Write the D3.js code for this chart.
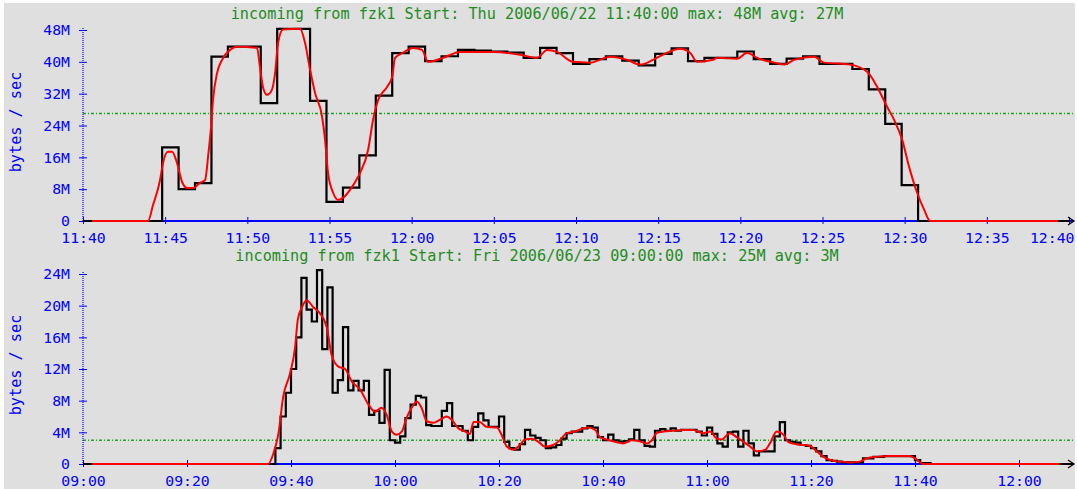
<!DOCTYPE html>
<html lang="en">
<head>
    <meta charset="UTF-8">
    <title>incoming from fzk1</title>
    <script src="https://d3js.org/d3.v7.min.js"></script>
    <style>
        body { margin: 0; background: #fff; }
        text { font-family: "DejaVu Sans Mono", monospace; }
    </style>
</head>
<body>
<svg id="chart" width="1077" height="489"></svg>

<script>
    // ---- data (values in M bytes/sec) ----
    const topTitle = 'incoming from fzk1 Start: Thu 2006/06/22 11:40:00 max: 48M avg: 27M';
    const botTitle = 'incoming from fzk1 Start: Fri 2006/06/23 09:00:00 max: 25M avg: 3M';
    const yLabel = 'bytes / sec';

    const topTicksY = [0, 8, 16, 24, 32, 40, 48];
    const botTicksY = [0, 4, 8, 12, 16, 20, 24];
    const topTicksX = ['11:40', '11:45', '11:50', '11:55', '12:00', '12:05', '12:10',
        '12:15', '12:20', '12:25', '12:30', '12:35', '12:40'];
    const botTicksX = ['09:00', '09:20', '09:40', '10:00', '10:20', '10:40', '11:00',
        '11:20', '11:40', '12:00'];
    const topAvg = 27;
    const botAvg = 3;

    // raw samples (black), one per minute starting at topRawStart
    const topRawStart = '11:39:49';
    const topRaw = [0, 0, 0, 0, 0, 18.5, 8.0, 9.5, 41.3, 43.8, 43.8, 29.6, 48.3, 48.3, 30.2, 4.8,
        8.4, 16.5, 31.5, 42.2, 43.8, 40.2, 41.4, 43.0, 42.8, 42.6, 42.3, 41.0, 43.5, 42.2, 39.5,
        40.7, 41.4, 40.3, 39.1, 42.0, 43.4, 40.2, 41.0, 41.0, 42.6, 40.7, 39.5, 40.8, 41.4, 39.5,
        39.5, 38.2, 33.1, 24.4, 9.0, 0, 0, 0, 0, 0, 0, 0, 0, 0, 0, 0];

    // smoothed trend (red): [minutes after 11:40, value]
    const topTrend = [[0.55, 0], [3.96, 0], [4.26, 4.0], [4.69, 10.3], [4.87, 14.6], [5.17, 17.4],
        [5.42, 17.4], [5.72, 14.6], [6.03, 9.8], [6.33, 8.3], [6.70, 8.3], [7.12, 9.6], [7.43, 10.3],
        [7.61, 16.1], [7.79, 23.6], [7.91, 30.4], [8.16, 37.2], [8.46, 40.5], [8.95, 43.0],
        [9.37, 43.8], [10.59, 43.5], [10.77, 38.7], [10.96, 33.5], [11.20, 31.7], [11.50, 33.0],
        [11.69, 37.2], [11.87, 44.8], [12.17, 48.1], [13.21, 48.3], [13.51, 44.8], [13.82, 38.0],
        [14.12, 32.2], [14.55, 26.2], [14.73, 20.4], [14.91, 12.1], [15.22, 7.1], [15.52, 5.3],
        [15.82, 5.8], [16.25, 7.8], [16.74, 11.1], [16.86, 12.1], [17.35, 17.9], [17.65, 25.4],
        [17.96, 30.4], [18.50, 33.7], [18.81, 36.2], [18.99, 41.0], [19.48, 42.3], [20.08, 43.5],
        [20.63, 43.0], [21.00, 40.0], [21.91, 41.0], [22.95, 42.5], [24.95, 42.5], [26.60, 41.8],
        [27.63, 41.0], [28.24, 43.0], [28.85, 42.5], [29.82, 40.0], [30.86, 39.8], [32.08, 41.3],
        [33.11, 40.5], [33.90, 39.3], [34.69, 40.5], [35.30, 41.8], [36.34, 43.3], [36.94, 42.3],
        [37.37, 40.0], [38.34, 40.5], [38.59, 41.0], [39.81, 40.8], [40.41, 42.3], [41.02, 41.0],
        [42.06, 39.8], [42.67, 39.3], [43.27, 40.5], [44.49, 41.3], [45.10, 39.8], [46.68, 39.3],
        [47.72, 37.5], [48.33, 33.7], [48.93, 28.7], [49.36, 25.4], [49.85, 20.4], [50.27, 13.6],
        [50.76, 7.1], [51.19, 2.8], [51.55, 0], [59.34, 0]];

    // raw samples (black): [minutes after 09:00, value], held until next sample
    const botRaw = [[-1, 0], [37, 2], [38, 6], [39, 9], [40, 12], [41, 16], [42, 23.5], [43, 19.5],
        [44, 18], [45, 24.5], [46, 14.5], [47, 22.3], [48, 9], [49, 10.6], [50, 17.3], [51, 9.3],
        [52, 10.5], [53, 9.3], [54, 10.5], [55, 6.2], [56, 6.7], [57, 5.2], [58, 11.9], [59, 3],
        [60, 2.7], [61, 3.5], [62, 5.8], [63, 7.5], [64, 8.6], [65, 8.4], [66, 4.9], [67, 4.8],
        [68, 4.8], [69, 6.7], [70, 7.7], [71, 4.8], [72, 4.8], [73, 4.2], [74, 3], [75, 4.7],
        [76, 6.4], [77, 5.5], [78, 4.7], [79, 4.7], [80, 6], [81, 2.8], [82, 2], [83, 1.8],
        [84, 2.5], [85, 4.3], [86, 3.6], [87, 3.3], [88, 3], [89, 2], [90, 2.1], [91, 2.4],
        [92, 3.2], [93, 3.9], [94, 4.1], [95, 4.1], [96, 4.5], [97, 4.8], [98, 4.6], [99, 3.4],
        [100, 3], [101, 3.7], [102, 3], [103, 2.8], [104, 2.9], [105, 3.1], [106, 4.3], [107, 3],
        [108, 2.3], [109, 2.2], [110, 4.2], [111, 4.4], [112, 4.2], [113, 4.5], [114, 4.2],
        [115, 4.3], [116, 4.3], [117, 4.3], [118, 4.1], [119, 3.6], [120, 4.6], [121, 3.8],
        [122, 2.6], [123, 2.2], [124, 4], [125, 4.1], [126, 2.2], [127, 4.2], [128, 2.6],
        [129, 1.1], [130, 1.6], [131, 1.6], [132, 1.6], [133, 3.5], [134, 5.3], [135, 3],
        [136, 2.8], [137, 2.7], [138, 2.4], [139, 2.3], [140, 2], [141, 1.6], [142, 1], [143, 0.5],
        [144, 0.4], [145, 0.3], [146, 0.2], [147, 0.2], [148, 0.2], [149, 0.2], [150, 0.7],
        [151, 0.7], [152, 0.9], [153, 0.9], [154, 1], [155, 1], [156, 1], [157, 1], [158, 1],
        [159, 1], [160, 0.5], [161, 0.1], [162, 0.1], [163, 0], [192, 0]];

    // smoothed trend (red): [minutes after 09:00, value]
    const botTrend = [[1.7, 0], [35.6, 0], [36.6, 1.3], [37.6, 3.9], [38.5, 8.5], [39.8, 11.4],
        [40.8, 14.8], [41.3, 18.2], [42.1, 19.8], [43.0, 20.7], [44.3, 19.8], [45.6, 19.0],
        [46.9, 17.2], [47.8, 13.8], [49.1, 12.3], [50.4, 12.0], [51.7, 10.4], [53.3, 9.4],
        [54.9, 7.5], [56.2, 6.6], [57.4, 7.1], [58.4, 6.2], [59.4, 4.1], [60.3, 3.7], [61.3, 4.1],
        [62.2, 5.8], [63.2, 7.1], [64.2, 7.9], [65.1, 7.1], [66.1, 5.4], [67.4, 5.2], [68.7, 5.6],
        [69.9, 6.0], [70.9, 5.6], [72.2, 4.5], [73.5, 4.1], [74.4, 3.8], [75.1, 5.3], [76.3, 5.3],
        [77.6, 4.7], [79.6, 4.6], [80.5, 3.7], [81.5, 2.2], [82.8, 1.8], [84.0, 2.4], [85.0, 3.1],
        [86.3, 3.2], [87.6, 2.8], [88.8, 2.2], [90.4, 2.4], [91.7, 3.0], [93.0, 3.9], [94.6, 4.1],
        [96.2, 4.5], [97.2, 4.6], [98.5, 4.3], [99.4, 3.4], [100.7, 3.1], [102.3, 2.8],
        [103.9, 2.6], [105.5, 3.0], [106.8, 2.9], [108.4, 2.6], [109.4, 3.0], [110.3, 3.9],
        [111.6, 4.1], [113.5, 4.2], [115.4, 4.3], [117.4, 4.3], [119.3, 3.9], [120.6, 4.1],
        [121.9, 3.2], [122.8, 3.1], [124.4, 3.9], [125.7, 3.4], [127.0, 2.8], [128.3, 2.2],
        [129.6, 1.6], [131.2, 1.8], [132.1, 2.6], [133.4, 4.1], [134.7, 3.7], [135.6, 2.8],
        [137.2, 2.5], [139.8, 2.3], [141.1, 1.6], [142.4, 0.9], [143.7, 0.5], [145.6, 0.3],
        [147.5, 0.2], [149.4, 0.3], [150.7, 0.7], [152.6, 0.9], [155.2, 1.0], [159.0, 1.0],
        [160.0, 0.7], [161.0, 0.2], [161.5, 0], [187.9, 0]];

    // ---- drawing ----
    const BG = '#dfdfdf';
    const BLUE = '#0000ff';
    const GREEN = '#1e8c1e';
    const AVG_GREEN = '#20a020';
    const RAW_COLOR = '#000000';
    const TREND_COLOR = '#ff0000';
    const parseT = d3.timeParse('%H:%M:%S');
    const parseHM = d3.timeParse('%H:%M');
    const addMin = (t, m) => new Date(t.getTime() + m * 60000);

    const svg = d3.select('#chart');
    svg.append('rect').attr('width', 1077).attr('height', 489).attr('fill', '#fff');
    svg.append('rect').attr('x', 4).attr('y', 3).attr('width', 1071).attr('height', 486).attr('fill', BG);

    const drawPanel = (opt) => {
        const g = svg.append('g');
        const x = d3.scaleTime().domain([parseHM(opt.ticksX[0]), parseHM(opt.ticksX[opt.ticksX.length - 1])])
            .range([83, opt.xEnd]);
        const y = d3.scaleLinear().domain([0, opt.ticksY[opt.ticksY.length - 1]])
            .range([opt.y0, opt.yTop]);

        const clipId = 'clip' + opt.id;
        svg.append('clipPath').attr('id', clipId)
            .append('rect').attr('x', 83).attr('y', opt.yTop - 10)
            .attr('width', opt.dataEnd - 83).attr('height', opt.y0 - opt.yTop + 12);

        // title
        g.append('text')
            .attr('x', 537).attr('y', opt.titleY)
            .attr('text-anchor', 'middle')
            .attr('fill', GREEN)
            .style('font-size', '15.2px')
            .text(opt.title);

        // y label
        g.append('text')
            .attr('transform', `translate(21, ${opt.yLabelY}) rotate(-90)`)
            .attr('text-anchor', 'middle')
            .attr('fill', BLUE)
            .style('font-size', '15.2px')
            .text(yLabel);

        // avg line
        g.append('line')
            .attr('x1', 83).attr('x2', 1075)
            .attr('y1', y(opt.avg)).attr('y2', y(opt.avg))
            .attr('stroke', AVG_GREEN).attr('stroke-width', 1.4)
            .attr('stroke-dasharray', '3,2,1,2');

        // y axis
        const yAxis = d3.axisLeft(y).tickValues(opt.ticksY).tickSize(3).tickPadding(10)
            .tickFormat(d => d === 0 ? '0' : d + 'M');
        const ya = g.append('g').attr('transform', 'translate(83,0)').call(yAxis);
        ya.select('.domain').remove();
        ya.selectAll('.tick line').attr('x1', -4).attr('x2', 4).attr('stroke', BLUE);
        ya.selectAll('.tick text').attr('fill', BLUE).style('font-size', '14.8px')
            .style('font-family', '"DejaVu Sans Mono", monospace');
        g.append('line')
            .attr('x1', 83).attr('x2', 83).attr('y1', opt.yTop - 2).attr('y2', opt.y0)
            .attr('stroke', BLUE).attr('stroke-width', 1.2).attr('stroke-dasharray', '1,1');

        // x axis
        const xAxis = d3.axisBottom(x).tickValues(opt.ticksX.map(parseHM)).tickSize(3).tickPadding(8)
            .tickFormat(d3.timeFormat('%H:%M'));
        const xa = g.append('g').attr('transform', `translate(0,${opt.y0})`).call(xAxis);
        xa.select('.domain').remove();
        xa.selectAll('.tick line').attr('y1', -4).attr('y2', 3).attr('stroke', BLUE);
        xa.selectAll('.tick text').attr('fill', BLUE).style('font-size', '14.8px')
            .style('font-family', '"DejaVu Sans Mono", monospace');
        // keep a label that would run past the right edge inside the frame
        xa.selectAll('.tick text').filter(d => x(d) > 1045)
            .attr('text-anchor', 'end').attr('x', 1074 - opt.xEnd);
        g.append('line')
            .attr('x1', 83).attr('x2', 1074).attr('y1', opt.y0).attr('y2', opt.y0)
            .attr('stroke', BLUE).attr('stroke-width', 2);
        g.append('path')
            .attr('d', `M1068,${opt.y0 - 4}L1074,${opt.y0}L1068,${opt.y0 + 4}`)
            .attr('fill', 'none').attr('stroke', RAW_COLOR).attr('stroke-width', 1.2);

        // raw (black) step line
        g.append('path')
            .datum(opt.raw)
            .attr('clip-path', `url(#${clipId})`)
            .attr('fill', 'none')
            .attr('stroke', RAW_COLOR)
            .attr('stroke-width', 2.2)
            .attr('d', d3.line().curve(d3.curveStepAfter)
                .x(d => x(d[0])).y(d => y(d[1])));

        // trend (red) line
        g.append('path')
            .datum(opt.trend)
            .attr('fill', 'none')
            .attr('stroke', TREND_COLOR)
            .attr('stroke-width', 2)
            .attr('stroke-linejoin', 'round')
            .attr('d', d3.line().curve(d3.curveMonotoneX)
                .x(d => x(d[0])).y(d => y(d[1])));
    };

    const topStart = parseHM('11:40');
    const topRawT0 = parseT(topRawStart);
    drawPanel({
        id: 'top', title: topTitle, titleY: 19, yLabelY: 122,
        ticksX: topTicksX, ticksY: topTicksY, avg: topAvg,
        xEnd: 1069, dataEnd: 1070, y0: 221, yTop: 30,
        raw: topRaw.map((v, i) => [addMin(topRawT0, i), v]),
        trend: topTrend.map(d => [addMin(topStart, d[0]), d[1]])
    });

    const botStart = parseHM('09:00');
    drawPanel({
        id: 'bot', title: botTitle, titleY: 261, yLabelY: 365,
        ticksX: botTicksX, ticksY: botTicksY, avg: botAvg,
        xEnd: 1019, dataEnd: 1072, y0: 464, yTop: 274,
        raw: botRaw.map(d => [addMin(botStart, d[0]), d[1]]),
        trend: botTrend.map(d => [addMin(botStart, d[0]), d[1]])
    });

    // thin white frame on the right edge
    svg.append('rect').attr('x', 1075).attr('y', 0).attr('width', 2).attr('height', 489).attr('fill', '#fff');
</script>
</body>
</html>
